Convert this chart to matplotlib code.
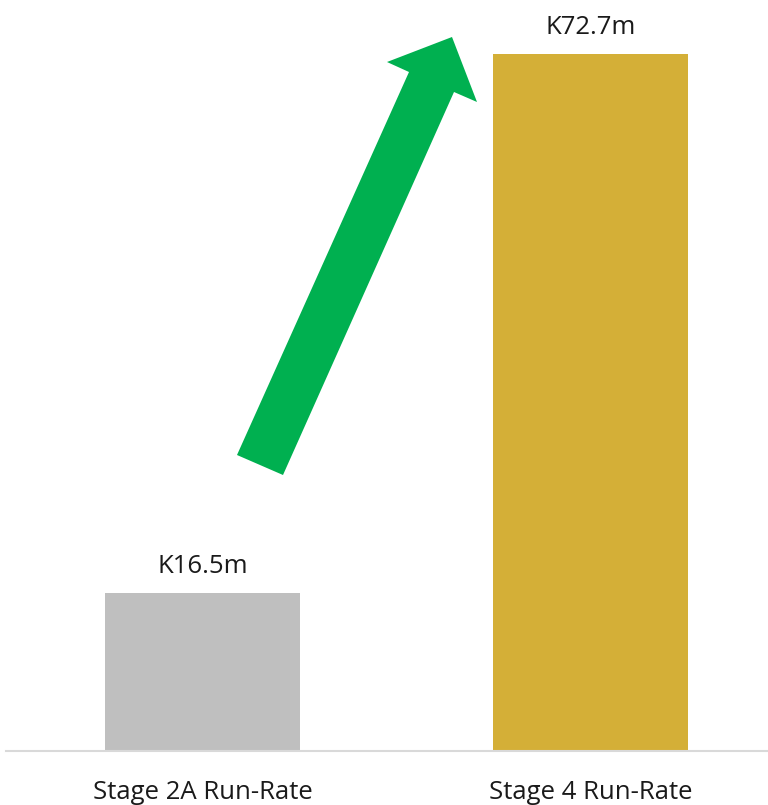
import matplotlib
matplotlib.use("Agg")
import matplotlib.pyplot as plt
from matplotlib.patches import Polygon

categories = ["Stage 2A Run-Rate", "Stage 4 Run-Rate"]
values = [16.5, 72.7]
value_labels = ["K16.5m", "K72.7m"]
bar_colors = ["#BFBFBF", "#D4AF37"]

W, H = 768, 805
plt.rcParams["font.family"] = ["Open Sans", "DejaVu Sans"]

fig = plt.figure(figsize=(W / 100, H / 100), dpi=100)
# axes span from the baseline up to the top edge of the figure
ax = fig.add_axes([6 / W, (H - 751) / H, (W - 6) / W, 751 / H])

x = range(len(categories))
ax.bar(x, values, width=0.503, color=bar_colors, zorder=2)
for xi, v, lab in zip(x, values, value_labels):
    ax.annotate(lab, (xi, v), xytext=(0, 14), textcoords="offset points",
                ha="center", va="baseline", fontsize=18.5, color="#1a1a1a")

ax.set_xlim(-0.506, 1.457)
ax.set_ylim(0, 78.3)
ax.set_xticks(list(x))
ax.set_xticklabels(categories, fontsize=18.5, color="#1a1a1a")
ax.tick_params(axis="x", length=0, pad=21)
ax.set_yticks([])
for side in ["top", "left", "right"]:
    ax.spines[side].set_visible(False)
ax.spines["bottom"].set_color("#D9D9D9")
ax.spines["bottom"].set_linewidth(1.5)

# green growth arrow, outline given in pixel positions from the top-left
arrow_px = [(237, 455), (409, 72), (387, 62), (452, 37), (477, 102),
            (454, 92), (283, 475)]
arrow_fig = [(px / W, (H - py) / H) for px, py in arrow_px]
fig.patches.append(Polygon(arrow_fig, closed=True, transform=fig.transFigure,
                           facecolor="#00B050", edgecolor="none"))

fig.savefig("out.png", dpi=100)
